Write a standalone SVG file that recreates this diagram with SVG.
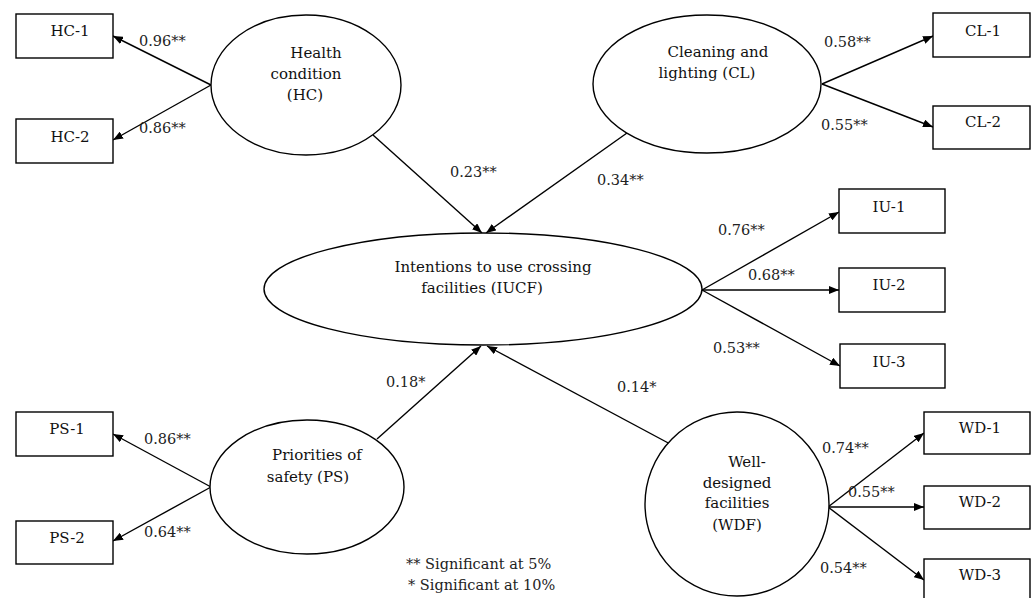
<svg xmlns="http://www.w3.org/2000/svg" width="1036" height="598" viewBox="0 0 1036 598">
<style>
.box{fill:#fff;stroke:#000;stroke-width:1.4}
.lat{fill:#fff;stroke:#000;stroke-width:1.4}
.t{font-family:"DejaVu Serif","Liberation Serif",serif;font-size:15px;fill:#111;text-anchor:middle}
.lb{font-family:"DejaVu Serif","Liberation Serif",serif;font-size:14.5px;fill:#222}
.c{stroke:#000;stroke-width:1.4;fill:none;marker-end:url(#ah)}
</style>
<defs>
<marker id="ah" markerUnits="userSpaceOnUse" markerWidth="10" markerHeight="8" refX="10" refY="4" orient="auto">
<path d="M0,0 L10,4 L0,8 z" fill="#000"/>
</marker>
</defs>
<rect width="1036" height="598" fill="#fff"/>
<g id="connectors">
<line class="c" x1="211" y1="85" x2="113" y2="36"/>
<line class="c" x1="211" y1="85" x2="113" y2="140"/>
<line class="c" x1="822" y1="84" x2="933" y2="36"/>
<line class="c" x1="822" y1="84" x2="933" y2="127"/>
<line class="c" x1="373" y1="135" x2="482" y2="233"/>
<line class="c" x1="627" y1="133" x2="486" y2="233"/>
<line class="c" x1="702" y1="290" x2="839" y2="212"/>
<line class="c" x1="702" y1="290" x2="839" y2="290"/>
<line class="c" x1="702" y1="290" x2="840" y2="366"/>
<line class="c" x1="211" y1="487" x2="113" y2="434"/>
<line class="c" x1="211" y1="487" x2="113" y2="541"/>
<line class="c" x1="377" y1="439" x2="481" y2="346"/>
<line class="c" x1="672" y1="445" x2="487" y2="346"/>
<line class="c" x1="828" y1="507" x2="924" y2="433"/>
<line class="c" x1="828" y1="507" x2="924" y2="507"/>
<line class="c" x1="828" y1="507" x2="924" y2="580"/>
</g>
<g id="labels">
<text class="lb" x="139" y="46">0.96**</text>
<text class="lb" x="139" y="133">0.86**</text>
<text class="lb" x="824" y="47">0.58**</text>
<text class="lb" x="821" y="130">0.55**</text>
<text class="lb" x="450" y="177">0.23**</text>
<text class="lb" x="597" y="185">0.34**</text>
<text class="lb" x="718" y="235">0.76**</text>
<text class="lb" x="748" y="280">0.68**</text>
<text class="lb" x="713" y="353">0.53**</text>
<text class="lb" x="144" y="444">0.86**</text>
<text class="lb" x="144" y="537">0.64**</text>
<text class="lb" x="386" y="387">0.18*</text>
<text class="lb" x="617" y="392">0.14*</text>
<text class="lb" x="822" y="453">0.74**</text>
<text class="lb" x="848" y="497">0.55**</text>
<text class="lb" x="820" y="573">0.54**</text>
</g>
<g id="HC1"><rect class="box" x="16" y="14" width="97" height="44"/><text class="t" x="70" y="36">HC-1</text></g>
<g id="HC2"><rect class="box" x="16" y="119" width="97" height="44"/><text class="t" x="70" y="142">HC-2</text></g>
<g id="HC"><ellipse class="lat" cx="306" cy="85" rx="95" ry="70"/>
<text class="t" x="316" y="58">Health</text><text class="t" x="306" y="79">condition</text><text class="t" x="305" y="100">(HC)</text></g>
<g id="CL"><ellipse class="lat" cx="707" cy="84" rx="114" ry="69"/>
<text class="t" x="718" y="57">Cleaning and</text><text class="t" x="707" y="78">lighting (CL)</text></g>
<g id="CL1"><rect class="box" x="933" y="13" width="97" height="44"/><text class="t" x="983" y="36">CL-1</text></g>
<g id="CL2"><rect class="box" x="933" y="106" width="97" height="43"/><text class="t" x="983" y="127">CL-2</text></g>
<g id="IUCF"><ellipse class="lat" cx="483" cy="289" rx="219" ry="56"/>
<text class="t" x="493" y="272">Intentions to use crossing</text><text class="t" x="482" y="293">facilities (IUCF)</text></g>
<g id="IU1"><rect class="box" x="839" y="189" width="106" height="44"/><text class="t" x="889" y="212">IU-1</text></g>
<g id="IU2"><rect class="box" x="839" y="268" width="106" height="44"/><text class="t" x="889" y="290">IU-2</text></g>
<g id="IU3"><rect class="box" x="840" y="344" width="105" height="44"/><text class="t" x="889" y="367">IU-3</text></g>
<g id="PS"><ellipse class="lat" cx="307" cy="487" rx="97" ry="67"/>
<text class="t" x="317" y="460">Priorities of</text><text class="t" x="308" y="482">safety (PS)</text></g>
<g id="PS1"><rect class="box" x="16" y="412" width="97" height="44"/><text class="t" x="67" y="434">PS-1</text></g>
<g id="PS2"><rect class="box" x="16" y="521" width="97" height="43"/><text class="t" x="67" y="543">PS-2</text></g>
<g id="WDF"><ellipse class="lat" cx="737" cy="504" rx="92" ry="92"/>
<text class="t" x="747" y="467">Well-</text><text class="t" x="737" y="488">designed</text><text class="t" x="737" y="508">facilities</text><text class="t" x="737" y="530">(WDF)</text></g>
<g id="WD1"><rect class="box" x="924" y="412" width="106" height="42"/><text class="t" x="980" y="433">WD-1</text></g>
<g id="WD2"><rect class="box" x="924" y="486" width="106" height="43"/><text class="t" x="980" y="507">WD-2</text></g>
<g id="WD3"><rect class="box" x="924" y="559" width="106" height="45"/><text class="t" x="980" y="580">WD-3</text></g>
<g id="legend">
<text class="lb" x="406" y="569">** Significant at 5%</text>
<text class="lb" x="408" y="590">* Significant at 10%</text>
</g>
</svg>
